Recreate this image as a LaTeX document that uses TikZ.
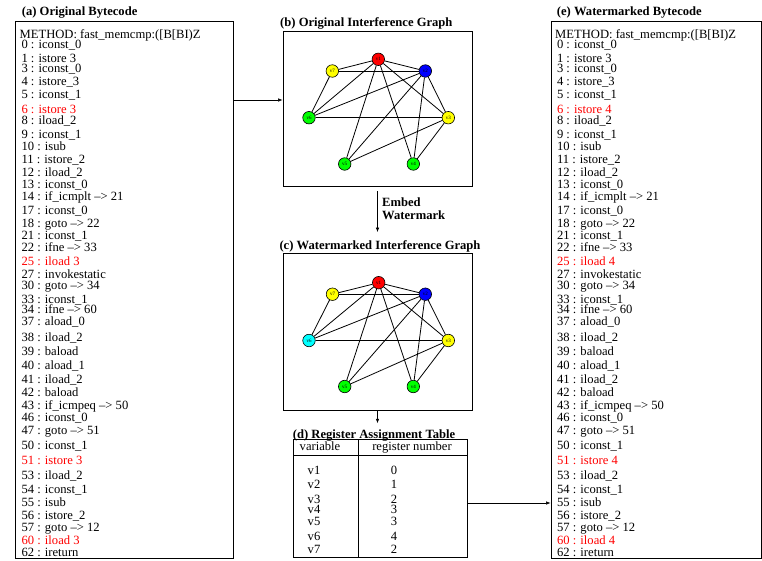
\documentclass[tikz,border=0pt]{standalone}
\usepackage{fontspec}
\setmainfont{Liberation Serif}
\usetikzlibrary{arrows.meta}

\definecolor{vred}{RGB}{255,0,0}
\definecolor{vblue}{RGB}{0,0,255}
\definecolor{vyellow}{RGB}{255,255,0}
\definecolor{vgreen}{RGB}{0,255,0}
\definecolor{vcyan}{RGB}{0,255,255}

\tikzset{
  panel/.style={draw, inner sep=0pt, line width=0.9pt},
  vnode/.style={circle, draw, inner sep=0pt, minimum size=12.5pt, line width=0.6pt, font=\fontsize{5}{5}\selectfont},
  code/.style={anchor=base west, inner sep=0pt},
  cell/.style={anchor=base, inner sep=0pt},
  ttl/.style={anchor=base west, inner sep=0pt, font=\fontsize{12.6}{14}\selectfont\bfseries},
  arr/.style={-{Latex[length=4.5pt,width=3.5pt]}, line width=0.6pt},
}

\begin{document}
\begin{tikzpicture}[x=1pt, y=-1pt, font=\fontsize{12.6}{14}\selectfont]
    \useasboundingbox (0,0) rectangle (762,560);

    \node[panel, minimum width=218pt, minimum height=537pt] (ba) at (124,290.3) {};
    \node[panel, minimum width=210pt, minimum height=537pt] (be) at (656,290.3) {};
    \node[panel, minimum width=189pt, minimum height=155pt] (gb) at (377.5,108.5) {};
    \node[panel, minimum width=189pt, minimum height=157pt] (gc) at (377.5,331.5) {};
    \node[panel, minimum width=174pt, minimum height=118pt] (tbl) at (380,498) {};

    \node[ttl] (ta) at (21.7,15.2) {(a) Original Bytecode};
    \node[ttl] (tb) at (280,26.5) {(b) Original Interference Graph};
    \node[ttl] (tc) at (279.3,249.2) {(c) Watermarked Interference Graph};
    \node[ttl] (td) at (292.7,438.2) {(d) Register Assignment Table};
    \node[ttl] (te) at (556.7,15.2) {(e) Watermarked Bytecode};

    \foreach \x/\r/\s in {0/3/a, 535.5/4/e} {
        \node[code] (\s0) at (\x+19.5,38.3) {METHOD: fast\_memcmp:([B[BI)Z};
        \foreach \y/\t [count=\i] in {
            44.3/{0 : iconst\_0}, 58.3/{1 : istore 3}, 68.3/{3 : iconst\_0},
            81/{4 : istore\_3}, 94.3/{5 : iconst\_1}, 109/{\color{vred}6 : istore \r},
            120.7/{8 : iload\_2}, 134.3/{9 : iconst\_1}, 146.7/{10 : isub},
            159/{11 : istore\_2}, 172/{12 : iload\_2}, 184.3/{13 : iconst\_0},
            196.7/{14 : if\_icmplt \textendash> 21}, 210/{17 : iconst\_0},
            223.3/{18 : goto \textendash> 22}, 235/{21 : iconst\_1},
            247.7/{22 : ifne \textendash> 33}, 261/{\color{vred}25 : iload \r},
            274/{27 : invokestatic}, 285.7/{30 : goto \textendash> 34},
            299/{33 : iconst\_1}, 309/{34 : ifne \textendash> 60},
            321.7/{37 : aload\_0}, 337.3/{38 : iload\_2}, 351.7/{39 : baload},
            365/{40 : aload\_1}, 379/{41 : iload\_2}, 392.3/{42 : baload},
            405/{43 : if\_icmpeq \textendash> 50}, 417.3/{46 : iconst\_0},
            430.7/{47 : goto \textendash> 51}, 445/{50 : iconst\_1},
            460/{\color{vred}51 : istore \r}, 475/{53 : iload\_2},
            489/{54 : iconst\_1}, 502.3/{55 : isub}, 515/{56 : istore\_2},
            527.3/{57 : goto \textendash> 12}, 540/{\color{vred}60 : iload \r},
            552.7/{62 : ireturn}}
            \node[code] (\s\i) at (\x+21.3,\y+4) {\t};
    }

    \node[vnode, fill=vred] (b1) at (378.3,59.3) {v1};
    \node[vnode, fill=vblue] (b2) at (425.3,71) {v2};
    \node[vnode, fill=vyellow] (b3) at (448.3,117.7) {v3};
    \node[vnode, fill=vgreen] (b4) at (413.3,164) {v4};
    \node[vnode, fill=vgreen] (b5) at (344.7,164) {v5};
    \node[vnode, fill=vgreen] (b6) at (309,117.7) {v6};
    \node[vnode, fill=vyellow] (b7) at (332.3,71) {v7};

    \node[vnode, fill=vred] (c1) at (378.7,282.7) {v1};
    \node[vnode, fill=vblue] (c2) at (425.3,294.2) {v2};
    \node[vnode, fill=vyellow] (c3) at (448.3,340.5) {v3};
    \node[vnode, fill=vgreen] (c4) at (413.3,386.5) {v4};
    \node[vnode, fill=vgreen] (c5) at (344.7,386.5) {v5};
    \node[vnode, fill=vcyan] (c6) at (309,340.5) {v6};
    \node[vnode, fill=vyellow] (c7) at (332.5,294.2) {v7};

    \foreach \u/\v in {1/7, 1/2, 7/2, 7/6, 1/6, 2/6, 6/3, 1/5, 1/4, 1/3, 2/5, 2/4, 2/3, 3/5, 3/4} {
        \draw[line width=0.8pt] (b\u) -- (b\v);
        \draw[line width=0.8pt] (c\u) -- (c\v);
    }

    \draw[line width=0.8pt] (293,455) -- (467,455);
    \draw[line width=0.8pt] (358.3,439) -- (358.3,557);
    \node[cell] (hv) at (320,450.7) {variable};
    \node[cell] (hr) at (412,450.7) {register number};
    \foreach \y/\n [count=\i] in {470/0, 484/1, 499/2, 509/3, 521/3, 536/4, 549/2} {
        \node[cell] (v\i) at (314,\y+4) {v\i};
        \node[cell] (n\i) at (394,\y+4) {\n};
    }

    \node[anchor=north west, align=left, inner sep=0pt, font=\fontsize{12.6}{13}\selectfont\bfseries] (emb) at (382,197.5) {Embed\\Watermark};

    \coordinate (ya) at (0,100);
    \coordinate (yt) at (0,503);
    \draw[arr] (ba.east |- ya) -- (gb.west |- ya);
    \draw[arr, shorten <=5pt, shorten >=8pt] (gb.south) -- (gb.south |- tc.north);
    \draw[arr, shorten >=6pt] (gc.south) -- (gc.south |- td.north);
    \draw[arr] (tbl.east |- yt) -- (be.west |- yt);
\end{tikzpicture}
\end{document}
